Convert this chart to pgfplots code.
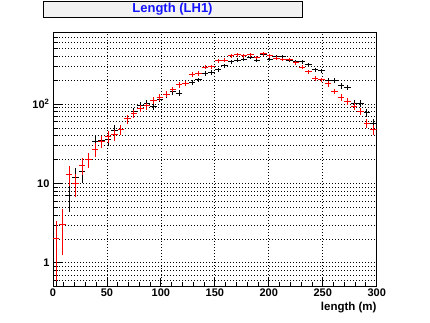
\documentclass[border=0pt]{standalone}
\usepackage{pgfplots}
\pgfplotsset{compat=1.18}
\usepackage{pgfplotstable}
\usepackage{fontspec}
\setmainfont{Liberation Sans}
\definecolor{titlegray}{RGB}{242,242,242}
\definecolor{rootblue}{RGB}{20,20,255}

\pgfplotstableread{
x y ep em
3 1 1 0.99
15 7 2.65 2.65
21 12 3.46 3.46
27 14 3.74 3.74
33 20 4.47 4.47
39 34 5.83 5.83
45 35 5.92 5.92
51 36 6 6
57 47 6.86 6.86
63 48 6.93 6.93
69 65 8.06 8.06
75 80 8.94 8.94
81 97 9.85 9.85
87 103 10.15 10.15
93 93 9.64 9.64
99 116 10.77 10.77
105 131 11.45 11.45
111 144 12 12
117 138 11.75 11.75
123 184 13.56 13.56
129 187 13.67 13.67
135 202 14.21 14.21
141 245 15.65 15.65
147 250 15.81 15.81
153 270 16.43 16.43
159 303 17.41 17.41
165 340 18.44 18.44
171 360 18.97 18.97
177 368 19.18 19.18
183 390 19.75 19.75
189 360 18.97 18.97
195 417 20.42 20.42
201 368 19.18 19.18
207 398 19.95 19.95
213 398 19.95 19.95
219 360 18.97 18.97
225 340 18.44 18.44
231 340 18.44 18.44
237 312 17.66 17.66
243 270 16.43 16.43
249 262 16.19 16.19
255 198 14.07 14.07
261 198 14.07 14.07
267 170 13.04 13.04
273 163 12.77 12.77
279 103 10.15 10.15
285 103 10.15 10.15
291 78 8.83 8.83
297 57 7.55 7.55
}\blackdata

\pgfplotstableread{
x y e
3 2 1.41
9 3 1.73
15 13 3.61
21 10 3.16
27 17 4.12
33 20 4.47
39 27 5.2
45 34 5.83
51 39 6.24
57 41 6.4
63 48 6.93
69 65 8.06
75 76 8.72
81 89 9.43
87 95 9.75
93 111 10.54
99 122 11.05
105 134 11.58
111 154 12.41
117 175 13.23
123 184 13.56
129 238 15.43
135 245 15.65
141 292 17.09
147 297 17.23
153 351 18.73
159 360 18.97
165 405 20.12
171 417 20.42
177 405 20.12
183 417 20.42
189 390 19.75
195 430 20.74
201 405 20.12
207 380 19.49
213 368 19.18
219 368 19.18
225 334 18.28
231 292 17.09
237 257 16.03
243 212 14.56
249 202 14.21
255 180 13.42
261 145 12.04
267 122 11.05
273 108 10.39
279 93 9.64
285 81 9
291 57 7.55
297 48 6.93
}\reddata

\begin{document}
\begin{tikzpicture}[x=1pt,y=1pt]
\useasboundingbox (0,0) rectangle (430,322);
\begin{axis}[
  at={(53pt,35.3pt)}, anchor=south west,
  scale only axis, width=323.7pt, height=254.2pt,
  xmin=0, xmax=300, ymode=log, ymin=0.5, ymax=800,
  xtick={0,50,...,300}, minor x tick num=4,
  ytick={1,10,100}, yticklabels={1,10,10\textsuperscript{2}},
  minor ytick={0.6,0.7,0.8,0.9,2,3,4,5,6,7,8,9,20,30,40,50,60,70,80,90,200,300,400,500,600,700,800},
  tick pos=left, tick align=inside,
  major tick length=9pt, minor tick length=4.5pt,
  xmajorgrids, ymajorgrids, yminorgrids,
  grid style={black, line width=0.8pt, dash pattern=on 0.8pt off 2.2pt},
  axis line style={line width=1pt},
  tick style={black, line width=0.9pt},
  tick label style={font=\fontsize{11}{13}\selectfont\bfseries},
  xticklabel style={yshift=1pt},
  /pgf/number format/assume math mode=true,
  xlabel={length (m)},
  xlabel style={at={(axis description cs:1,-0.083)}, anchor=east, inner sep=0pt, font=\fontsize{11.5}{13}\selectfont\bfseries},
]
\addplot[draw=none, mark=none,
  error bars/.cd, x dir=both, x fixed=3, y dir=both, y explicit, error mark=none,
  error bar style={draw=black, line width=1pt, solid}]
  table[x=x, y=y, y error plus=ep, y error minus=em] {\blackdata};
\addplot[draw=none, mark=none,
  error bars/.cd, x dir=both, x fixed=3, y dir=both, y explicit, error mark=none,
  error bar style={draw=red, line width=1pt, solid}]
  table[x=x, y=y, y error=e] {\reddata};
\end{axis}
\node[draw=black, line width=0.8pt, fill=titlegray, minimum width=259pt, minimum height=16.3pt, inner sep=0pt, text=rootblue, font=\fontsize{13}{15}\selectfont\bfseries] at (172.5,312.85) {Length (LH1)};
\end{tikzpicture}
\end{document}
